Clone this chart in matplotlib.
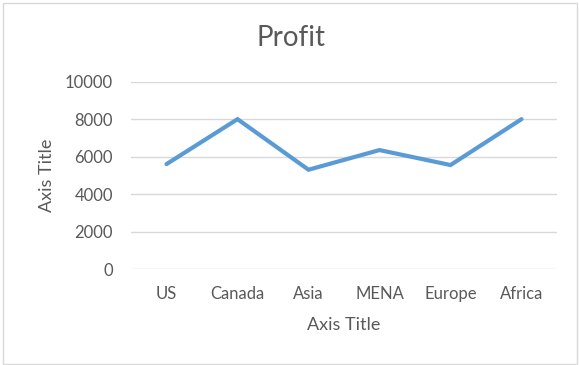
import matplotlib
matplotlib.use("Agg")
import matplotlib.pyplot as plt
from matplotlib.patches import Rectangle

categories = ["US", "Canada", "Asia", "MENA", "Europe", "Africa"]
profit = [5600, 8000, 5300, 6350, 5550, 8000]
yticks = [0, 2000, 4000, 6000, 8000, 10000]

plt.rcParams['font.family'] = ['Lato', 'DejaVu Sans']
text_color = "#595959"
grid_color = "#D9D9D9"
line_color = "#5B9BD5"

fig = plt.figure(figsize=(5.79, 3.65), dpi=100)
ax = fig.add_axes([131/579, 1-269/365, 426/579, (269-81.7)/365])

x = list(range(len(categories)))
ax.plot(x, profit, color=line_color, linewidth=3.0, solid_capstyle='round', solid_joinstyle='miter', zorder=3)

ax.set_xlim(-0.5, len(categories) - 0.5)
ax.set_ylim(0, 10000)
ax.set_yticks(yticks)
ax.set_yticklabels([str(v) for v in yticks])
ax.set_xticks(x)
ax.set_xticklabels(categories)

ax.grid(axis='y', color=grid_color, linewidth=1.0, zorder=0)
ax.tick_params(axis='both', length=0, colors=text_color, labelsize=12)
ax.tick_params(axis='y', pad=13)
ax.tick_params(axis='x', pad=12)
for s in ax.spines.values():
    s.set_visible(False)

ax.set_xlabel("Axis Title", fontsize=13, color=text_color, labelpad=11)
ax.set_ylabel("Axis Title", fontsize=13, color=text_color, labelpad=7)
fig.text(291/579, 1-38/365, "Profit", fontsize=20, color=text_color, ha='center', va='center')

fig.patches.append(Rectangle((2.5/579, 1.5/365), 574/579, 361/365, transform=fig.transFigure,
                             fill=False, edgecolor=grid_color, linewidth=1.0))

fig.savefig("out.png", dpi=100)
